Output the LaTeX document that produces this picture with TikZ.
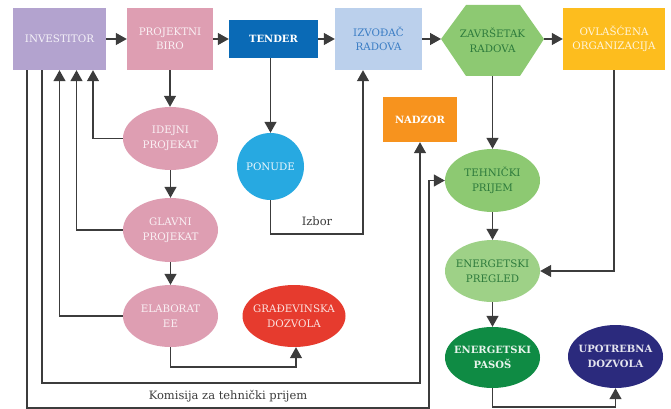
\documentclass[tikz,border=0pt]{standalone}
\usepackage{fontspec}
\setmainfont{DejaVu Serif}
\usetikzlibrary{arrows.meta,shapes.geometric}
\definecolor{cinv}{HTML}{B3A3CF}
\definecolor{cpink}{HTML}{DE9EB2}
\definecolor{ctender}{HTML}{0A6AB6}
\definecolor{cizv}{HTML}{BBD0EC}
\definecolor{cgreen}{HTML}{8DC972}
\definecolor{covl}{HTML}{FDBD1E}
\definecolor{cnad}{HTML}{F7931E}
\definecolor{cpon}{HTML}{27A9E1}
\definecolor{cgrad}{HTML}{E63B2E}
\definecolor{cpas}{HTML}{0F8B44}
\definecolor{cupo}{HTML}{2B2A7D}
\definecolor{cline}{HTML}{3C3C3C}
\definecolor{tizv}{HTML}{3B7DC4}
\definecolor{tgreen}{HTML}{2D7A3C}
\tikzset{
  txt/.style={font=\fontsize{10.3}{14.5}\selectfont},
  btxt/.style={font=\fontsize{10}{14.5}\selectfont\bfseries},
  box/.style={rectangle,inner sep=0pt,align=center,txt},
  oval/.style={ellipse,inner sep=-40pt,align=center,txt},
  arr/.style={draw=cline,line width=1.3pt,-{Triangle[length=11pt,width=12pt]}},
}
\begin{document}
\begin{tikzpicture}[x=1pt,y=-1pt]
\useasboundingbox (0,0) rectangle (671,409);
% top row
\node[box,fill=cinv,text=white!85!cinv,minimum width=93pt,minimum height=62pt] (inv) at (59.5,39) {INVESTITOR};
\node[box,fill=cpink,text=white!85!cpink,minimum width=86pt,minimum height=62pt] (biro) at (170,39) {PROJEKTNI\\BIRO};
\node[box,fill=ctender,text=white,btxt,minimum width=89pt,minimum height=38pt] (tender) at (273.5,39) {TENDER};
\node[box,fill=cizv,text=tizv,minimum width=87pt,minimum height=62pt] (izv) at (378.5,39) {IZVOĐAČ\\RADOVA};
\fill[cgreen] (441,39) -- (466,5) -- (520,5) -- (544,39) -- (520,76) -- (466,76) -- cycle;
\node[box,text=tgreen,minimum width=103pt,minimum height=71pt] (zav) at (492.5,40.5) {ZAVRŠETAK\\RADOVA};
\node[box,fill=covl,text=white!85!covl,minimum width=102pt,minimum height=62pt] (ovl) at (614,39) {OVLAŠĆENA\\ORGANIZACIJA};
\node[box,fill=cnad,text=white,btxt,minimum width=74pt,minimum height=45pt] (nadzor) at (420,119.5) {NADZOR};
% left column
\node[oval,fill=cpink,text=white!85!cpink,minimum width=95pt,minimum height=63pt] (idejni) at (170.5,138.5) {IDEJNI\\PROJEKAT};
\node[oval,fill=cpink,text=white!85!cpink,minimum width=95pt,minimum height=64pt] (glavni) at (170.5,230) {GLAVNI\\PROJEKAT};
\node[oval,fill=cpink,text=white!85!cpink,minimum width=95pt,minimum height=62pt] (elab) at (170.5,316) {ELABORAT\\EE};
\node[oval,fill=cgrad,text=white!85!cgrad,minimum width=103pt,minimum height=62pt] (grad) at (294,316) {GRAĐEVINSKA\\DOZVOLA};
\node[circle,inner sep=0pt,fill=cpon,text=white!90!cpon,minimum size=67pt,txt] (ponude) at (270.5,166.5) {PONUDE};
% right column
\node[oval,fill=cgreen,text=tgreen,minimum width=95pt,minimum height=63pt] (teh) at (492.5,180.5) {TEHNIČKI\\PRIJEM};
\node[oval,fill=cgreen!85!white,text=tgreen,minimum width=95pt,minimum height=62pt] (preg) at (492.5,271) {ENERGETSKI\\PREGLED};
\node[oval,fill=cpas,text=white!90!cpas,btxt,minimum width=95pt,minimum height=61pt] (pasos) at (492.5,357.5) {ENERGETSKI\\PASOŠ};
\node[oval,fill=cupo,text=white!88!cupo,btxt,minimum width=95pt,minimum height=63pt] (upo) at (615.5,356.5) {UPOTREBNA\\DOZVOLA};
% helper coordinates
\coordinate (c1) at (42,383);
\coordinate (c2) at (429,408);
\coordinate (c3) at (363,234);
\coordinate (c4) at (250,367);
\coordinate (c5) at (550,407);
% top row arrows
\draw[arr] (inv) -- (biro);
\draw[arr] (biro) -- (tender);
\draw[arr] (tender) -- (izv);
\draw[arr] (izv) -- (441,39);
\draw[arr] (544,39) -- (ovl);
% vertical chains
\draw[arr] (biro) -- (idejni.north -| biro);
\draw[arr] (idejni) -- (glavni);
\draw[arr] (glavni) -- (elab);
\draw[arr] (ponude.north |- tender.south) -- (ponude);
\draw[arr] (zav.south) -- (teh);
\draw[arr] (teh) -- (preg);
\draw[arr] (preg) -- (pasos);
% feedback to investor
\draw[arr] (idejni.west) -| ([xshift=33.5pt]inv.south);
\draw[arr] (glavni.west) -| ([xshift=17pt]inv.south);
\draw[arr] (elab.west) -| (inv.south);
% elaborat to gradjevinska
\draw[arr] (elab.south) |- (c4) -| ([xshift=2pt]grad.south);
% ponude to izvodjac
\draw[arr] (ponude.south) |- (c3) -- (c3 |- izv.south);
\node[font=\fontsize{11.5}{13}\selectfont,text=cline] (izbor) at (317,221) {Izbor};
% investor to nadzor and tehnicki
\draw[arr] ([xshift=-17.5pt]inv.south) |- (c1) -| (nadzor.south);
\draw[arr] ([xshift=-32.5pt]inv.south) |- (c2) |- (teh.west);
\node[font=\fontsize{11.5}{13}\selectfont,text=cline] (kom) at (228,396) {Komisija za tehnički prijem};
% ovlascena to pregled
\draw[arr] (ovl.south) |- (preg.east);
% pasos to upotrebna
\draw[arr] (pasos.south) |- (c5) -| (upo.south);
\end{tikzpicture}
\end{document}
